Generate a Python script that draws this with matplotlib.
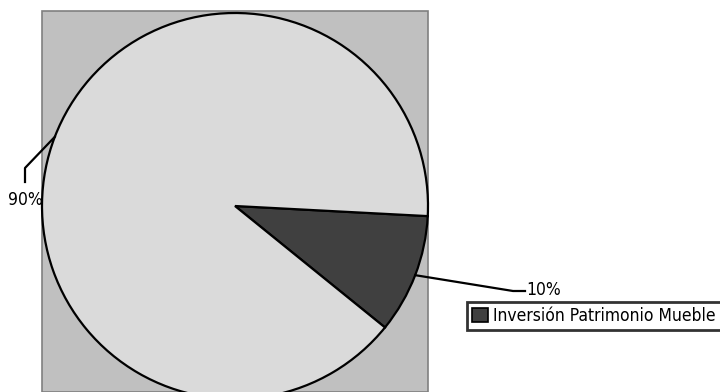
import matplotlib
matplotlib.use("Agg")
import matplotlib.pyplot as plt
import matplotlib.patches as mpatches
from matplotlib import font_manager
import numpy as np

categories = ["Inversión Patrimonio Mueble", "Otros"]
values = [10, 90]
pct_labels = ["10%", "90%"]
colors = ["#404040", "#dadada"]

names = {f.name for f in font_manager.fontManager.ttflist}
fam = [n for n in ['Liberation Sans Narrow', 'DejaVu Sans Condensed'] if n in names] + ['DejaVu Sans']
narrow = fam[0] != 'DejaVu Sans'
plt.rcParams['font.family'] = fam
if not narrow:
    plt.rcParams['font.stretch'] = 'condensed'

W, H = 720, 392
fig = plt.figure(figsize=(7.2, 3.92), dpi=100)
ax = fig.add_axes([0, 0, 1, 1])

# plot-area background
ax.add_patch(mpatches.Rectangle((42, 0), 386, H - 11, facecolor="#c0c0c0",
                                edgecolor="#808080", linewidth=1.2, zorder=0))

cx, cy, r = 235, H - 206, 193
wedges, _ = ax.pie(values, colors=colors, startangle=-3, counterclock=False,
                   center=(cx, cy), radius=r, frame=True,
                   wedgeprops=dict(edgecolor="black", linewidth=1.6))
ax.set_xlim(0, W)
ax.set_ylim(0, H)
ax.axis('off')

def mid_point(w):
    ang = np.deg2rad((w.theta1 + w.theta2) / 2)
    return cx + r * np.cos(ang), cy + r * np.sin(ang)

fs_pct = 12.5
fs_leg = 12.5

# 10% label (right)
x0, y0 = mid_point(wedges[0])
ax.plot([x0, 513, 525], [y0, H - 291, H - 291], color="black", lw=1.6, zorder=5)
ax.text(526, H - 290, pct_labels[0], ha="left", va="center", fontsize=fs_pct, zorder=6)

# 90% label (left)
x1, y1 = mid_point(wedges[1])
ax.plot([x1, 25, 25], [y1, H - 168, H - 182], color="black", lw=1.6, zorder=5)
ax.text(25, H - 200, pct_labels[1], ha="center", va="center", fontsize=fs_pct, zorder=6)

handle = mpatches.Patch(facecolor=colors[0], edgecolor="black", linewidth=1.2)
leg = fig.legend([handle], [categories[0]], loc="upper left",
                 bbox_to_anchor=(467 / W, 1 - 302 / H), fontsize=fs_leg,
                 frameon=True, fancybox=False, borderpad=0.3,
                 handlelength=0.9, handleheight=0.9, handletextpad=0.3,
                 borderaxespad=0)
leg.get_frame().set_edgecolor("black")
leg.get_frame().set_linewidth(2)

fig.savefig("out.png", dpi=100)
